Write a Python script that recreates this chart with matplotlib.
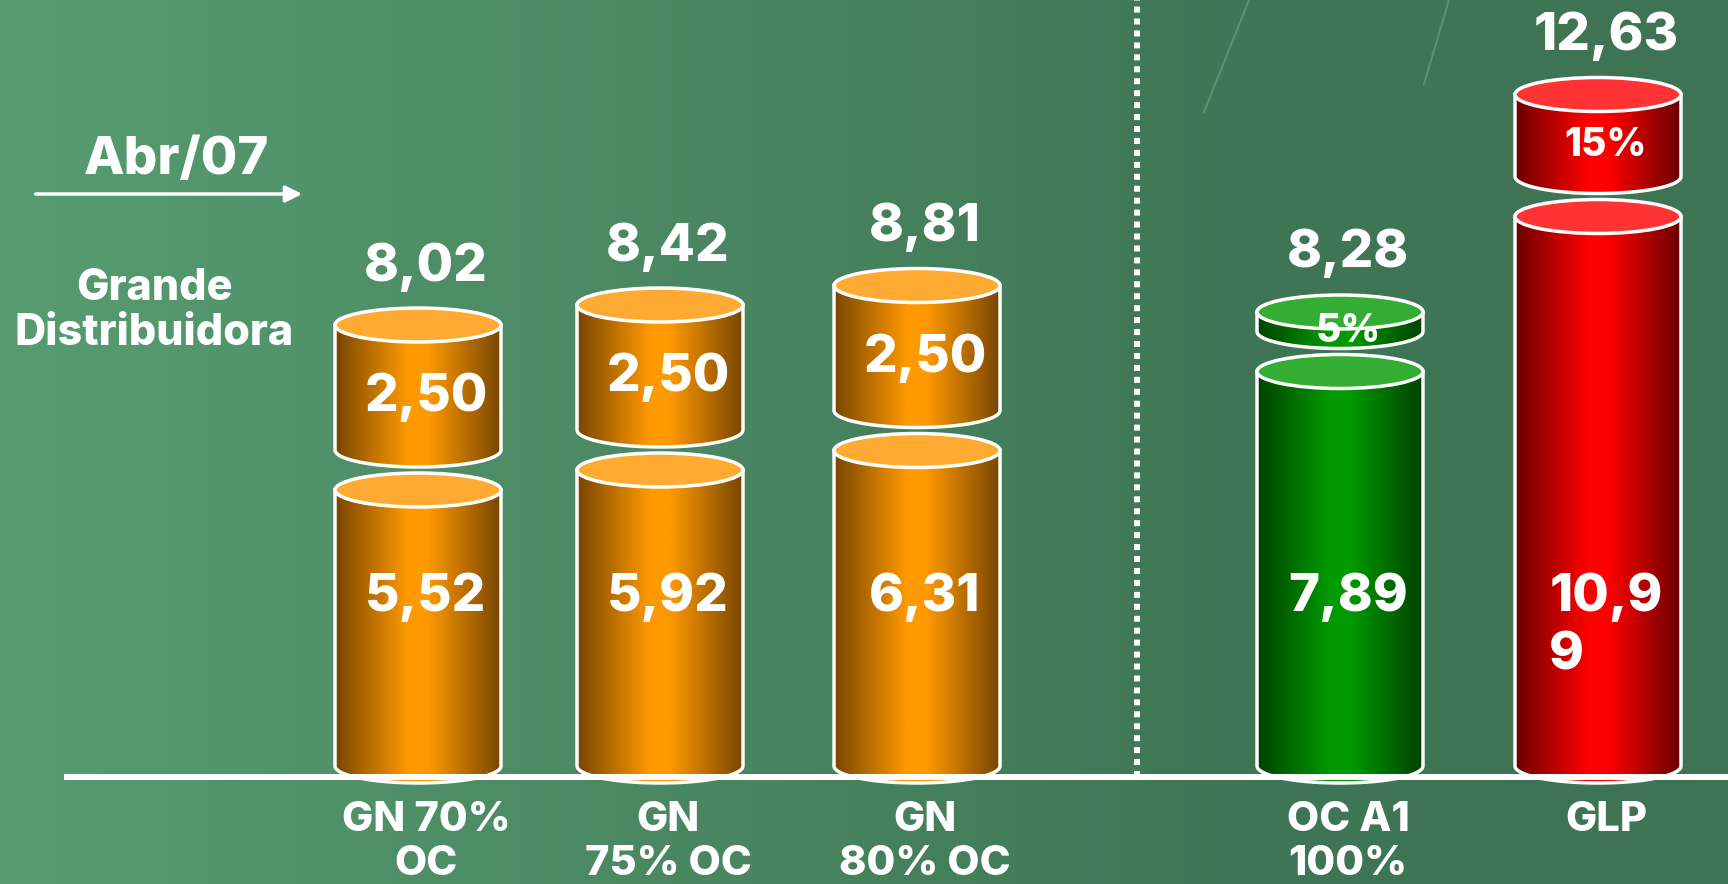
import numpy as np
import matplotlib.pyplot as plt
from matplotlib.colors import LinearSegmentedColormap
from matplotlib.patches import Ellipse, PathPatch
from matplotlib.path import Path

plt.rcParams['font.family'] = ['Inter', 'DejaVu Sans']

# dados
categorias = ['GN 70%\nOC', 'GN\n75% OC', 'GN\n80% OC', 'OC A1\n100%', 'GLP']
base = np.array([5.52, 5.92, 6.31, 7.89, 10.99])
total = np.array([8.02, 8.42, 8.81, 8.28, 12.63])
rot_base = ['5,52', '5,92', '6,31', '7,89', '10,9\n9']
rot_topo = ['2,50', '2,50', '2,50', '5%', '15%']
rot_total = ['8,02', '8,42', '8,81', '8,28', '12,63']
topo = total - base

# layout (pixels da figura)
W, H = 1728, 884
K = 50.0          # pixels por unidade
Y0 = 766          # linha do y = 0
def ypx(p):
    return (Y0 - p) / K

xs = [418, 660, 917, 1340, 1598]
larg = 166
ry = 17 / K
gap = 0.8
lw = 2.5

cores = {
    'laranja': ('#784600', '#ff9900', '#ffab33'),
    'verde': ('#004200', '#009a00', '#33ad33'),
    'vermelho': ('#6a0000', '#ff0000', '#ff3333'),
}
tipo = ['laranja', 'laranja', 'laranja', 'verde', 'vermelho']

fig = plt.figure(figsize=(W / 100, H / 100), dpi=100)
ax = fig.add_axes([0, 0, 1, 1])
ax.axis('off')

# fundo
fundo = LinearSegmentedColormap.from_list('fundo', [(0, '#579c71'), (0.72, '#3f7655'), (1, '#3e7453')])
ax.imshow(np.linspace(0, 1, 512).reshape(1, -1), cmap=fundo, extent=[0, W, ypx(H), ypx(0)],
          aspect='auto', zorder=0)
ax.plot([1249, 1204], [ypx(0), ypx(112)], color='#6aa884', lw=1.5, alpha=0.6, zorder=1)
ax.plot([1449, 1424], [ypx(0), ypx(84)], color='#6aa884', lw=1.5, alpha=0.6, zorder=1)


def cilindro(xc, y0, y1, cor):
    escuro, claro, tampa = cores[cor]
    cmap = LinearSegmentedColormap.from_list(cor, [(0, escuro), (0.44, claro), (0.56, claro), (1, escuro)])
    xl, xr = xc - larg / 2, xc + larg / 2
    t = np.linspace(np.pi, 2 * np.pi, 80)
    arco = np.column_stack([xc + larg / 2 * np.cos(t), y0 + ry * np.sin(t)])
    verts = np.vstack([[xl, y1], arco, [xr, y1], [xl, y1]])
    codes = [Path.MOVETO] + [Path.LINETO] * (len(verts) - 2) + [Path.CLOSEPOLY]
    corpo = PathPatch(Path(verts, codes), facecolor='none', edgecolor='none')
    ax.add_patch(corpo)
    im = ax.imshow(np.linspace(0, 1, 256).reshape(1, -1), cmap=cmap,
                   extent=[xl, xr, y0 - ry, y1], aspect='auto', zorder=3)
    im.set_clip_path(corpo)
    ax.plot(verts[:-1, 0], verts[:-1, 1], color='white', lw=lw, zorder=4,
            solid_joinstyle='round')
    ax.add_patch(Ellipse((xc, y1), larg, 2 * ry, facecolor=tampa, edgecolor='white', lw=lw, zorder=5))


txt = dict(color='white', fontweight='heavy', zorder=8)
for i, xc in enumerate(xs):
    cilindro(xc, 0, base[i], tipo[i])
    b2 = base[i] + gap
    cilindro(xc, b2, b2 + topo[i], tipo[i])
    # rotulos
    ax.text(xc + 8, ypx(573), rot_base[i], ha='center', va='top', multialignment='left',
            fontsize=38, linespacing=1.25, **txt)
    tam = 38 if topo[i] > 1.9 else 28
    ax.text(xc + 8, b2 + topo[i] / 2 - 0.6 * ry, rot_topo[i], ha='center', va='center',
            fontsize=tam, **txt)
    ax.text(xc + 8, b2 + topo[i] + ry + 0.55, rot_total[i], ha='center', va='baseline',
            fontsize=38, **txt)
    ax.text(xc + 8, ypx(801), categorias[i], ha='center', va='top', fontsize=30,
            linespacing=1.2, **txt)

# linhas
ax.plot([64, W], [ypx(777), ypx(777)], color='white', lw=4.3, zorder=10, solid_capstyle='butt')
ax.plot([1137, 1137], [ypx(777), ypx(0)], color='white', lw=4.3, ls=(0, (1, 1)), zorder=2)

ax.text(176, ypx(161), 'Abr/07', ha='center', va='center', fontsize=38, **txt)
ax.annotate('', xy=(305, ypx(194)), xytext=(33, ypx(194)),
            arrowprops=dict(arrowstyle='-|>', color='white', lw=2.5, mutation_scale=25))
ax.text(154, ypx(311), 'Grande\nDistribuidora', ha='center', va='center', fontsize=31,
        linespacing=1.15, **txt)

ax.set_xlim(0, W)
ax.set_ylim(ypx(H), ypx(0))
fig.savefig('out.png', dpi=100)
